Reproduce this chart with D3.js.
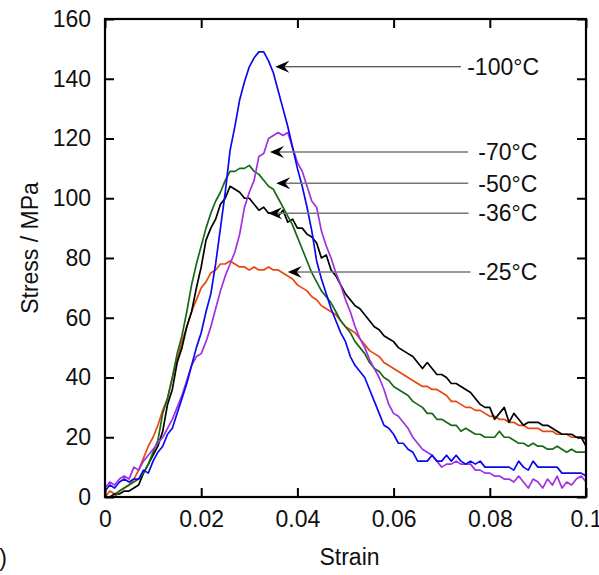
<!DOCTYPE html>
<html>
<head>
<meta charset="utf-8">
<script src="https://cdn.jsdelivr.net/npm/d3@7"></script>
<style>
  body { margin: 0; background: #fff; }
  svg { display: block; font-family: "Liberation Sans", Arial, sans-serif; }
</style>
</head>
<body>
<svg id="chart" width="599" height="575"></svg>
<script>
// strain grid, 0 .. 0.1 in steps of 0.001
const strain = d3.range(0, 101).map(i => i / 1000);

const stressM100 = [2,4,3,5,6,5,6,6,9,8,12,15,17,21,23,28,33,38,44,50,55,62,68,78,90,102,116,124,133,139,
  144,147,149,149,146,142,136,130,124,117,110,104,97,89,79,73,68,63,59,55,
  52,47,44,42,40,36,32,28,24,23,21,18,18,16,15,12,12,12,14,12,
  12,14,12,14,12,11,12,11,12,10,10,10,10,10,10,9,12,10,9,12,
  10,10,10,10,10,8,8,8,8,8,7];
const stressM70 = [3,5,4,6,7,6,10,9,12,14,16,18,20,23,26,30,34,39,44,47,48,52,57,63,69,74,78,82,88,97,
  102,106,114,115,120,121,122,121,122,117,112,109,104,99,97,89,84,80,75,71,
  66,62,57,53,50,46,43,40,36,31,28,27,25,23,20,18,16,15,14,12,
  10,11,11,12,11,11,11,9,9,8,8,7,7,6,6,5,7,5,3,6,
  5,3,6,4,7,3,5,4,6,7,5];
const stressM50 = [0,0,0,2,3,4,5,6,8,11,15,19,28,33,40,48,54,62,71,78,84,90,95,99,102,106,109,109,110,110,
  111,109,108,106,104,103,100,97,94,91,87,83,79,75,72,69,67,65,62,59,
  57,55,52,50,48,45,43,42,40,39,37,36,35,34,32,31,30,28,28,26,
  26,25,24,24,22,23,22,21,21,20,20,20,22,20,20,19,18,18,17,18,
  17,17,16,16,17,16,15,16,15,15,15];
const stressM36 = [0,0,1,1,2,2,3,4,8,11,14,17,22,31,36,45,50,57,62,70,77,86,90,93,98,100,104,103,102,100,
  100,98,96,97,95,95,94,96,92,93,90,90,88,87,85,80,81,76,74,71,
  68,66,64,63,61,59,57,56,54,53,52,50,49,48,47,45,43,45,43,41,
  41,40,38,38,37,36,35,33,31,30,30,26,28,30,25,28,26,24,25,25,
  25,24,24,23,22,21,21,21,20,20,17];
const stressM25 = [0,2,1,2,3,4,6,9,13,17,20,24,29,33,40,46,52,57,62,66,70,72,75,76,78,78,79,78,77,77,
  76,77,76,76,77,76,76,75,74,73,71,70,69,67,66,64,63,62,61,59,
  57,56,55,53,51,49,48,47,45,44,43,42,41,40,39,38,37,37,36,36,
  35,34,32,32,31,30,30,29,29,28,27,27,26,26,25,25,24,24,23,23,
  23,22,22,22,21,21,21,20,20,20,19];

const seriesNames = ["-25°C", "-36°C", "-50°C", "-70°C", "-100°C"];
const seriesColors = ["#e8480c", "#000000", "#17691a", "#a030e0", "#0a0af0"];
const seriesValues = [stressM25, stressM36, stressM50, stressM70, stressM100];

// annotation arrows: tip point, line end / label position (data units)
const annoLabels = ["-100°C", "-70°C", "-50°C", "-36°C", "-25°C"];
const annoTipX = [0.0354, 0.0343, 0.0356, 0.0339, 0.0380];
const annoTipY = [144, 115.5, 105, 95, 75.3];
const annoEndX = [0.0740, 0.0755, 0.0755, 0.0756, 0.0760];
const annoTextX = [0.0753, 0.0776, 0.0776, 0.0776, 0.0776];

const xTicks = [0, 0.02, 0.04, 0.06, 0.08, 0.1];
const yTicks = [0, 20, 40, 60, 80, 100, 120, 140, 160];

const margin = {left: 105, top: 19, right: 13, bottom: 78};
const width = 599 - margin.left - margin.right,
      height = 575 - margin.top - margin.bottom;

const svg = d3.select("#chart");
const g = svg.append("g")
    .attr("transform", "translate(" + margin.left + "," + margin.top + ")");

const x = d3.scaleLinear().domain([0, 0.1]).range([0, width]);
const y = d3.scaleLinear().domain([0, 160]).range([height, 0]);

const fmtX = d => d === 0 ? "0" : (d === 0.1 ? "0.1" : d3.format(".2f")(d));

// clip so curves stay inside the frame
g.append("clipPath").attr("id", "clip")
  .append("rect").attr("width", width).attr("height", height);

// curves
const line = d3.line()
    .x((d, i) => x(strain[i]))
    .y(d => y(d));

g.append("g").attr("clip-path", "url(#clip)")
  .selectAll("path")
  .data(seriesValues)
  .enter()
  .append("path")
  .attr("d", d => line(d))
  .attr("fill", "none")
  .attr("stroke", (d, i) => seriesColors[i])
  .attr("stroke-width", 1.7)
  .attr("stroke-linejoin", "round");

// axes, ticks inside, mirrored on top and right
const tickLen = 9;
g.append("g").attr("class", "axis")
  .attr("transform", "translate(0," + height + ")")
  .call(d3.axisBottom(x).tickValues(xTicks).tickFormat(fmtX).tickSizeInner(-tickLen).tickSizeOuter(0).tickPadding(14));
g.append("g").attr("class", "axis")
  .call(d3.axisLeft(y).tickValues(yTicks).tickSizeInner(-tickLen).tickSizeOuter(0).tickPadding(14));
g.append("g").attr("class", "axis")
  .call(d3.axisTop(x).tickValues(xTicks).tickFormat("").tickSizeInner(-tickLen).tickSizeOuter(0));
g.append("g").attr("class", "axis")
  .attr("transform", "translate(" + width + ",0)")
  .call(d3.axisRight(y).tickValues(yTicks).tickFormat("").tickSizeInner(-tickLen).tickSizeOuter(0));

g.selectAll(".axis .domain").remove();
g.selectAll(".axis line").attr("stroke", "#000").attr("stroke-width", 2);
g.selectAll(".axis text").attr("fill", "#111").style("font-size", "23px")
  .style("font-family", "'Liberation Sans', Arial, sans-serif");

g.append("rect")
  .attr("width", width).attr("height", height)
  .attr("fill", "none").attr("stroke", "#000").attr("stroke-width", 2.2);

// annotations
const anno = g.append("g");
annoLabels.forEach((lab, i) => {
  const tx = x(annoTipX[i]), ty = y(annoTipY[i]);
  anno.append("line")
    .attr("x1", tx + 6).attr("y1", ty)
    .attr("x2", x(annoEndX[i])).attr("y2", ty)
    .attr("stroke", i === 0 ? "#222" : "#777")
    .attr("stroke-width", i === 0 ? 1.1 : 1.5);
  anno.append("path")
    .attr("d", "M" + tx + "," + ty + " L" + (tx + 14) + "," + (ty - 6) +
      " L" + (tx + 9) + "," + ty + " L" + (tx + 14) + "," + (ty + 6) + "Z")
    .attr("fill", "#000");
  anno.append("text")
    .attr("x", x(annoTextX[i])).attr("y", ty)
    .attr("dy", "0.36em")
    .style("font-size", "23px")
    .attr("fill", "#111")
    .text(lab);
});

// axis titles
svg.append("text")
  .attr("x", margin.left + width / 2 + 4).attr("y", 565)
  .attr("text-anchor", "middle")
  .style("font-size", "23px").attr("fill", "#111")
  .text("Strain");
svg.append("text")
  .attr("transform", "translate(38," + (margin.top + height / 2 - 10) + ") rotate(-90)")
  .attr("text-anchor", "middle")
  .style("font-size", "23px").attr("fill", "#111")
  .text("Stress / MPa");

// panel letter, mostly cut off at the left edge
svg.append("text")
  .attr("x", 7).attr("y", 566)
  .attr("text-anchor", "end")
  .style("font-size", "23px").attr("fill", "#111")
  .text("(b)");
</script>
</body>
</html>
